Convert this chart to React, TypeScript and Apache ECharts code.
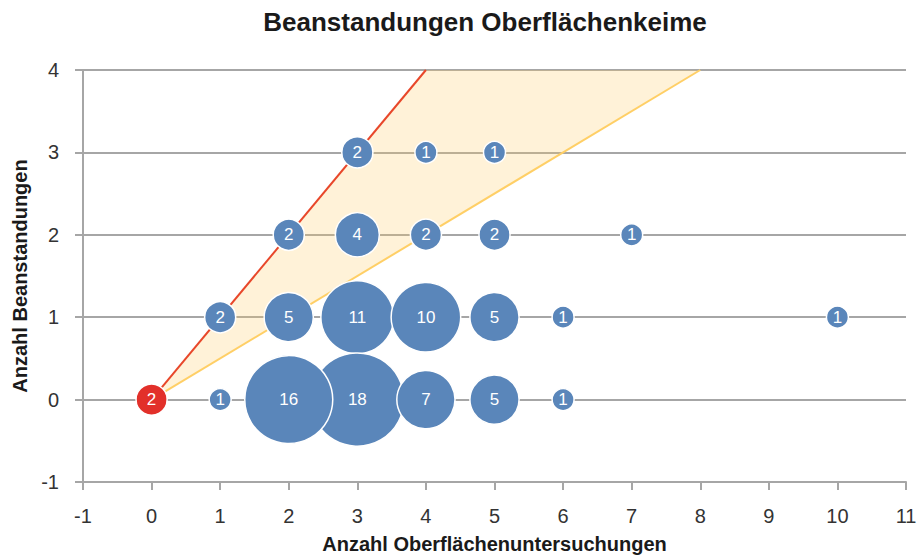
import React, { useEffect, useRef } from "react";
import * as echarts from "echarts";

const TITLE = "Beanstandungen Oberflächenkeime";
const X_NAME = "Anzahl Oberflächenuntersuchungen";
const Y_NAME = "Anzahl Beanstandungen";

// Blue bubbles: x = Anzahl Oberflächenuntersuchungen, y = Anzahl Beanstandungen, count = bubble label
const bubbleX = [3, 4, 5, 2, 3, 4, 5, 7, 1, 2, 3, 4, 5, 6, 10, 1, 3, 2, 4, 5, 6];
const bubbleY = [3, 3, 3, 2, 2, 2, 2, 2, 1, 1, 1, 1, 1, 1, 1, 0, 0, 0, 0, 0, 0];
const bubbleCount = [2, 1, 1, 2, 4, 2, 2, 1, 2, 5, 11, 10, 5, 1, 1, 1, 18, 16, 7, 5, 1];

// Red bubble
const redX = [0];
const redY = [0];
const redCount = [2];

// Lines and band
const redLineX = [0, 4];
const redLineY = [0, 4];
const yellowLineX = [0, 8];
const yellowLineY = [0, 4];
const bandX = [0, 4, 8];
const bandY = [0, 4, 4];

const FONT = "'Liberation Sans', Arial, sans-serif";

export default function App() {
  const ref = useRef<HTMLDivElement>(null);

  useEffect(() => {
    if (!ref.current) return;
    const chart = echarts.init(ref.current, null, { renderer: "svg" });

    const blueData = bubbleX.map((x, i) => [x, bubbleY[i], bubbleCount[i]]);
    const redData = redX.map((x, i) => [x, redY[i], redCount[i]]);
    const bandData = bandX.map((x, i) => [x, bandY[i]]);

    const sizeFn = (v: number[]) => 22 * Math.sqrt(v[2]);
    const labelCfg = {
      show: true,
      position: "inside" as const,
      color: "#ffffff",
      fontSize: 17,
      fontFamily: FONT,
      formatter: (p: any) => String(p.value[2]),
    };

    chart.setOption({
      animation: false,
      backgroundColor: "#ffffff",
      graphic: [
        {
          type: "text",
          x: 485,
          y: 22,
          style: {
            text: TITLE,
            align: "center",
            verticalAlign: "middle",
            font: `bold 26px ${FONT}`,
            fill: "#1a1a1a",
          },
        },
      ],
      grid: {
        left: 83,
        right: 15,
        top: 70,
        bottom: 76,
        containLabel: false,
        outerBoundsMode: "none",
      },
      xAxis: {
        type: "value",
        min: -1,
        max: 11,
        interval: 1,
        name: X_NAME,
        nameLocation: "middle",
        nameGap: 52,
        nameTextStyle: { fontSize: 20, fontWeight: "bold", color: "#1a1a1a", fontFamily: FONT },
        axisLine: { show: true, onZero: false, lineStyle: { color: "#a6a6a6", width: 2 } },
        axisTick: { show: true, length: 8, lineStyle: { color: "#a6a6a6", width: 2 } },
        axisLabel: { fontSize: 20, color: "#333333", margin: 24, fontFamily: FONT },
        splitLine: { show: false },
      },
      yAxis: {
        type: "value",
        min: -1,
        max: 4,
        interval: 1,
        name: Y_NAME,
        nameLocation: "middle",
        nameGap: 50,
        nameTextStyle: { fontSize: 20, fontWeight: "bold", color: "#1a1a1a", fontFamily: FONT },
        axisLine: { show: true, onZero: false, lineStyle: { color: "#a6a6a6", width: 2 } },
        axisTick: { show: true, length: 8, lineStyle: { color: "#a6a6a6", width: 2 } },
        axisLabel: { fontSize: 20, color: "#333333", margin: 24, fontFamily: FONT },
        splitLine: { show: true, lineStyle: { color: "#a6a6a6", width: 2 } },
      },
      series: [
        {
          type: "custom",
          z: 1,
          silent: true,
          data: bandData,
          renderItem: (params: any, api: any) => {
            if (params.dataIndex !== 0) return null;
            const pts = bandData.map((d) => api.coord(d));
            return {
              type: "polygon",
              shape: { points: pts },
              style: { fill: "rgba(255, 205, 100, 0.25)", stroke: "none" },
            };
          },
        },
        {
          type: "line",
          z: 2,
          silent: true,
          symbol: "none",
          data: yellowLineX.map((x, i) => [x, yellowLineY[i]]),
          lineStyle: { color: "#ffcf66", width: 2 },
        },
        {
          type: "line",
          z: 2,
          silent: true,
          symbol: "none",
          data: redLineX.map((x, i) => [x, redLineY[i]]),
          lineStyle: { color: "#e8472a", width: 2 },
        },
        {
          type: "scatter",
          z: 3,
          data: blueData,
          symbolSize: sizeFn,
          itemStyle: { color: "#5a86ba", borderColor: "#ffffff", borderWidth: 1.5, opacity: 1 },
          label: labelCfg,
          emphasis: { disabled: true },
        },
        {
          type: "scatter",
          z: 3,
          data: redData,
          symbolSize: sizeFn,
          itemStyle: { color: "#e2302a", borderColor: "#ffffff", borderWidth: 1.5, opacity: 1 },
          label: labelCfg,
          emphasis: { disabled: true },
        },
      ],
    });

    return () => chart.dispose();
  }, []);

  return (
    <div
      ref={ref}
      style={{ position: "fixed", left: 0, top: 0, width: 921, height: 558, background: "#fff" }}
    />
  );
}
